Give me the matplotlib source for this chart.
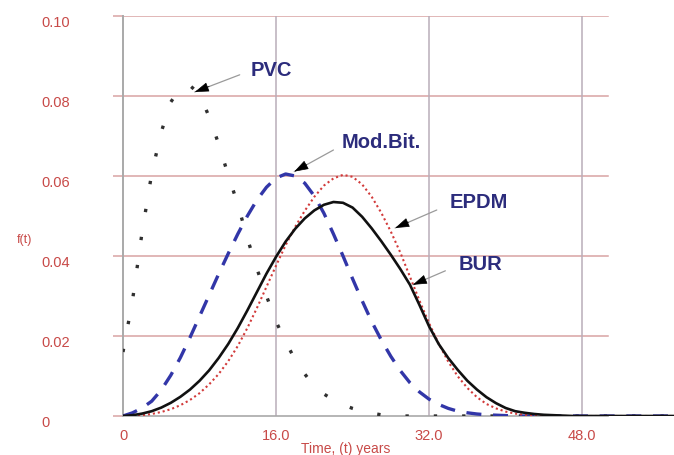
import matplotlib
matplotlib.use("Agg")
import matplotlib.pyplot as plt

plt.rcParams['font.family'] = ['Liberation Sans', 'DejaVu Sans']

# Time axis (years) and probability density of failure for each roofing system
years = list(range(0, 61))

pvc = [0.016, 0.029, 0.046, 0.0606, 0.071, 0.0785, 0.082, 0.0826, 0.0805, 0.0748,
       0.068, 0.0602, 0.0529, 0.0444, 0.0368, 0.030, 0.0236, 0.0186, 0.014, 0.0105,
       0.0074, 0.0055, 0.004, 0.0028, 0.0019, 0.0012, 0.0007, 0.0003, 0.0001, 0.0,
       0.0] + [0.0] * 30

mod_bit = [0.0, 0.0008, 0.002, 0.0037, 0.0065, 0.0102, 0.0146, 0.0196, 0.0249, 0.0302,
           0.0355, 0.0406, 0.0455, 0.050, 0.054, 0.0572, 0.0595, 0.0605, 0.060, 0.0582,
           0.055, 0.0507, 0.0455, 0.040, 0.0343, 0.0288, 0.0236, 0.019, 0.0149, 0.0113,
           0.0083, 0.006, 0.0042, 0.0029, 0.0019, 0.0012, 0.0008, 0.0005, 0.0003, 0.0002,
           0.0001] + [0.0] * 20

epdm = [0.0, 0.0001, 0.0002, 0.0005, 0.001, 0.0017, 0.0027, 0.004, 0.0057, 0.0079,
        0.0105, 0.0137, 0.0175, 0.022, 0.027, 0.0323, 0.0376, 0.0427, 0.0473, 0.0513,
        0.0548, 0.0576, 0.0594, 0.0603, 0.0598, 0.0579, 0.0548, 0.0508, 0.0461, 0.0408,
        0.0348, 0.0288, 0.0232, 0.0181, 0.0136, 0.0099, 0.007, 0.0047, 0.003, 0.0019,
        0.0011, 0.0006, 0.0003, 0.0002, 0.0001, 0.0] + [0.0] * 15

bur = [0.0, 0.0002, 0.0006, 0.0012, 0.0021, 0.0033, 0.0048, 0.0066, 0.0088, 0.0114,
       0.0145, 0.018, 0.022, 0.0264, 0.031, 0.0356, 0.0398, 0.0436, 0.0468, 0.0494,
       0.0514, 0.0528, 0.0535, 0.0533, 0.0521, 0.0498, 0.0469, 0.0437, 0.0403, 0.0367,
       0.0328, 0.0277, 0.0224, 0.018, 0.0145, 0.0115, 0.0088, 0.0066, 0.0047, 0.0032,
       0.002, 0.0012, 0.0008, 0.0005, 0.0003, 0.0002, 0.0001, 0.0] + [0.0] * 13

x_ticks = [0, 16, 32, 48]
x_tick_labels = ["0", "16.0", "32.0", "48.0"]
y_ticks = [0, 0.02, 0.04, 0.06, 0.08, 0.10]
y_tick_labels = ["0", "0.02", "0.04", "0.06", "0.08", "0.10"]

# Labels with (label position, arrow start, arrow tip) in data units
labels = ["PVC", "Mod.Bit.", "EPDM", "BUR"]
label_xy = [(15.5, 0.0865), (27.0, 0.0683), (37.2, 0.0533), (37.4, 0.0378)]
arrow_from = [(12.2, 0.0853), (22.0, 0.0665), (32.8, 0.0515), (33.7, 0.0363)]
arrow_to = [(7.5, 0.0810), (17.9, 0.0611), (28.45, 0.0470), (30.3, 0.0328)]

tick_red = "#c84a48"
grid_red = "#d9a3a3"
grid_gray = "#b9adb9"
navy = "#2c2c7c"

fig = plt.figure(figsize=(6.74, 4.55), dpi=100)
ax = fig.add_axes([123 / 674, 39 / 455, 1 - 123 / 674, 400 / 455])
ax.set_xlim(0, 57.6)
ax.set_ylim(0, 0.10)

grid_end = 50.7
for yv in y_ticks[1:]:
    ax.plot([0, grid_end], [yv, yv], color=grid_red, lw=1.1, zorder=1)
for xv in x_ticks[1:]:
    ax.plot([xv, xv], [0, 0.10], color=grid_gray, lw=1.1, zorder=1)

ax.plot(years, pvc, color="#303030", lw=2.4, linestyle=(0, (1.0, 7.5)),
        dash_capstyle="butt", zorder=3)
ax.plot(years, mod_bit, color="#3236a8", lw=2.4, linestyle=(0, (4.5, 3.5)),
        dash_capstyle="butt", zorder=3)
ax.plot(years, epdm, color="#d23a3a", lw=1.5, linestyle=(0, (1.0, 1.4)), zorder=4)
ax.plot(years, bur, color="#111111", lw=1.9, zorder=5)

for spine in ("top", "right"):
    ax.spines[spine].set_visible(False)
ax.spines["left"].set_color("#a9a9a9")
ax.spines["left"].set_linewidth(1.4)
ax.spines["bottom"].set_color("#a9a9a9")
ax.spines["bottom"].set_linewidth(1.2)
ax.spines["bottom"].set_bounds(0, grid_end)

ax.set_xticks(x_ticks)
ax.set_xticklabels(x_tick_labels)
ax.set_yticks(y_ticks)
ax.set_yticklabels(y_tick_labels)
ax.tick_params(axis="x", length=0, pad=9, labelsize=10.5, labelcolor=tick_red)
ax.tick_params(axis="y", length=7, width=1.1, color=grid_red, pad=52,
               labelsize=10.5, labelcolor=tick_red)
for lab in ax.get_yticklabels():
    lab.set_horizontalalignment("left")
    lab.set_verticalalignment("top")

ax.text(23.3, -0.0083, "Time, (t) years", ha="center", va="center",
        fontsize=10, color=tick_red, clip_on=False)
ax.text(-10.3, 0.044, "f(t)", ha="center", va="center",
        fontsize=9, color=tick_red, clip_on=False)

for name, pos, start, tip in zip(labels, label_xy, arrow_from, arrow_to):
    ax.text(pos[0], pos[1], name, ha="center", va="center", fontsize=14.5,
            fontweight="bold", color=navy, zorder=6)
    ax.annotate("", xy=tip, xytext=start,
                arrowprops=dict(arrowstyle="-", color="#9a9a9a", lw=0.9,
                                shrinkA=0, shrinkB=0), zorder=6)
    # short black head at the tip
    dx = (start[0] - tip[0])
    dy = (start[1] - tip[1])
    hx = tip[0] + dx * 0.32
    hy = tip[1] + dy * 0.32
    ax.annotate("", xy=tip, xytext=(hx, hy),
                arrowprops=dict(arrowstyle="-|>,head_length=0.9,head_width=0.3",
                                color="black", lw=0.5, shrinkA=0, shrinkB=0),
                zorder=7)

fig.savefig("out.png", dpi=100)
